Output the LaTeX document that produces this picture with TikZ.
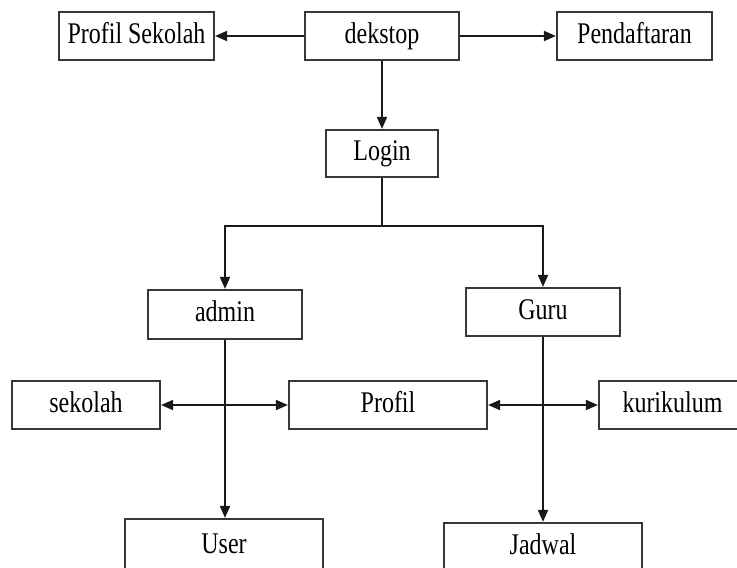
\documentclass[tikz,border=0pt]{standalone}
\usepackage{fontspec}
\setmainfont{Liberation Serif}[FakeStretch=0.8]
\usetikzlibrary{arrows.meta}
\tikzset{
  box/.style={draw=black!78, line width=2.2pt, rectangle, inner sep=0pt,
    font=\fontsize{30}{34}\selectfont, text=black, text height=20pt, text depth=6pt},
  tip/.style={Triangle[length=12pt,width=10pt]},
  conn/.style={draw=black!90, line width=1.8pt, -{Triangle[length=12pt,width=10pt]}},
  biconn/.style={draw=black!90, line width=1.8pt, {Triangle[length=12pt,width=10pt]}-{Triangle[length=12pt,width=10pt]}},
  link/.style={draw=black!90, line width=1.8pt}
}
\begin{document}
\begin{tikzpicture}[x=1pt,y=-1pt]
\useasboundingbox (0,0) rectangle (737,568);
\clip (0,0) rectangle (737,568);
\fill[white] (0,0) rectangle (737,568);

\node[box, minimum width=155pt, minimum height=48pt] (ps) at (136.5,36) {Profil Sekolah};
\node[box, minimum width=154pt, minimum height=48pt] (dk) at (382,36) {dekstop};
\node[box, minimum width=155pt, minimum height=48pt] (pd) at (634.5,36) {Pendaftaran};
\node[box, minimum width=112pt, minimum height=47pt] (login) at (382,153.5) {Login};
\node[box, minimum width=154pt, minimum height=49pt] (admin) at (225,314.5) {admin};
\node[box, minimum width=154pt, minimum height=48pt] (guru) at (543,312) {Guru};
\node[box, minimum width=148pt, minimum height=48pt] (sek) at (86,405) {sekolah};
\node[box, minimum width=198pt, minimum height=48pt] (prof) at (388,405) {Profil};
\node[box, minimum width=147pt, minimum height=48pt] (kur) at (672.5,405) {kurikulum};
\node[box, minimum width=198pt, minimum height=60pt, text depth=12pt] (user) at (224,549) {User};
\node[box, minimum width=198pt, minimum height=60pt, text depth=18pt] (jadwal) at (543,553) {Jadwal};

\coordinate (jn) at (382,226);

\draw[conn] (dk.west) -- (ps.east);
\draw[conn] (dk.east) -- (pd.west);
\draw[conn] (dk.south) -- (login.north);
\draw[link] (login.south) -- (jn);
\draw[conn] (jn) -| (admin.north);
\draw[conn] (jn) -| (guru.north);
\draw[conn] (admin.south) -- (admin.south |- user.north);
\draw[conn] (guru.south) -- (guru.south |- jadwal.north);
\draw[biconn] (sek.east) -- (prof.west);
\draw[biconn] (prof.east) -- (kur.west);
\end{tikzpicture}
\end{document}
